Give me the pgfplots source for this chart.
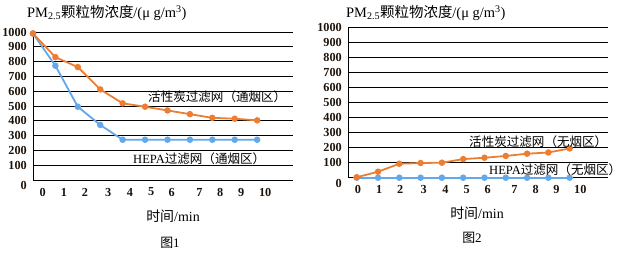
\documentclass[border=0pt]{standalone}
\usepackage{pgfplots}
\pgfplotsset{compat=1.18}
\usepackage{fontspec}
\setmainfont{Liberation Serif}
\newfontfamily\cjk{Noto Sans CJK SC}
\definecolor{myor}{RGB}{237,125,49}
\definecolor{mybl}{RGB}{98,168,234}
\pgfplotsset{
  myaxis/.style={
    scale only axis, width=260bp,
    axis x line*=bottom, axis y line*=left,
    axis line style={-, black, line width=0.9bp},
    ymin=0, ymax=1000, ytick={0,100,...,1000},
    yticklabels={\smash{\raisebox{-9.5bp}{0}},100,200,300,400,500,600,700,800,900,1000},
    ymajorgrids, grid style={black, line width=0.9bp},
    major tick length=0pt,
    /pgf/number format/assume math mode=true,
    /pgf/number format/1000 sep={},
    tick label style={font=\bfseries\fontsize{12.3}{12.3}\selectfont, text=black!85!brown},
    yticklabel style={anchor=east, inner sep=0pt, xshift=-6bp},
    xticklabel style={anchor=center, inner sep=0pt, yshift=-12bp},
    clip=false,
  },
  orl/.style={myor, line width=1.8bp, mark=*, mark size=2.3bp, mark options={fill=myor, draw=myor}},
  bll/.style={mybl, line width=1.8bp, mark=*, mark size=2.3bp, mark options={fill=mybl, draw=mybl}},
}
\begin{document}
\begin{tikzpicture}[x=1bp,y=1bp]
\useasboundingbox (0,0) rectangle (622,253);
% ---- chart 1
\begin{axis}[myaxis, at={(33bp,73bp)}, anchor=south west, height=148bp,
  xmin=0, xmax=11.6,
  xtick={0.43,1.38,2.32,3.36,4.33,5.27,6.19,7.42,8.35,9.29,10.36},
  xticklabels={0,1,2,3,4,5,6,7,8,9,10}]
\addplot[bll] coordinates {(0,990)(1,772)(2,495)(3,372)(4,272)(5,272)(6,272)(7,272)(8,272)(9,272)(10,272)};
\addplot[orl] coordinates {(0,990)(1,830)(2,763)(3,612)(4,518)(5,495)(6,470)(7,445)(8,420)(9,414)(10,403)};
\end{axis}
% ---- chart 2
\begin{axis}[myaxis, at={(348bp,75.3bp)}, anchor=south west, height=150bp,
  xmin=-0.41, xmax=11.8,
  xtick={0.06,1.05,2.04,3.14,4.17,5.16,6.15,7.41,8.4,9.38,10.5},
  xticklabels={0,1,2,3,4,5,6,7,8,9,10}]
\addplot[bll] coordinates {(0,0)(1,0)(2,0)(3,0)(4,0)(5,0)(6,0)(7,0)(8,0)(9,0)(10,0)};
\addplot[orl] coordinates {(0,3)(1,40)(2,93)(3,98)(4,100)(5,124)(6,133)(7,145)(8,160)(9,168)(10,195)};
\end{axis}
% ---- texts
\tikzset{txt/.style={inner sep=0pt}}
\node[txt, anchor=west, font=\fontsize{14.5}{14.5}\selectfont] at (27,240) {PM\textsubscript{2.5}{\cjk 颗粒物浓度}/(μ g/m\textsuperscript{3})};
\node[txt, anchor=west, font=\fontsize{14.5}{14.5}\selectfont] at (346,240) {PM\textsubscript{2.5}{\cjk 颗粒物浓度}/(μ g/m\textsuperscript{3})};
\node[txt, font=\fontsize{14}{14}\selectfont] at (173,37) {{\cjk 时间}/min};
\node[txt, font=\fontsize{14}{14}\selectfont] at (477,40) {{\cjk 时间}/min};
\node[txt, font=\fontsize{13}{13}\selectfont] at (170,10) {{\cjk 图}1};
\node[txt, font=\fontsize{13}{13}\selectfont] at (472,15) {{\cjk 图}2};
\node[txt, anchor=west, font=\fontsize{12.6}{12.6}\selectfont] at (148,156) {{\cjk 活性炭过滤网（通烟区）}};
\node[txt, anchor=west, font=\fontsize{12.6}{12.6}\selectfont] at (133,94) {HEPA{\cjk 过滤网（通烟区）}};
\node[txt, anchor=west, font=\fontsize{12.6}{12.6}\selectfont] at (469,111) {{\cjk 活性炭过滤网（无烟区）}};
\node[txt, anchor=west, font=\fontsize{12.6}{12.6}\selectfont] at (489,83) {HEPA{\cjk 过滤网（无烟区）}};
\end{tikzpicture}
\end{document}
